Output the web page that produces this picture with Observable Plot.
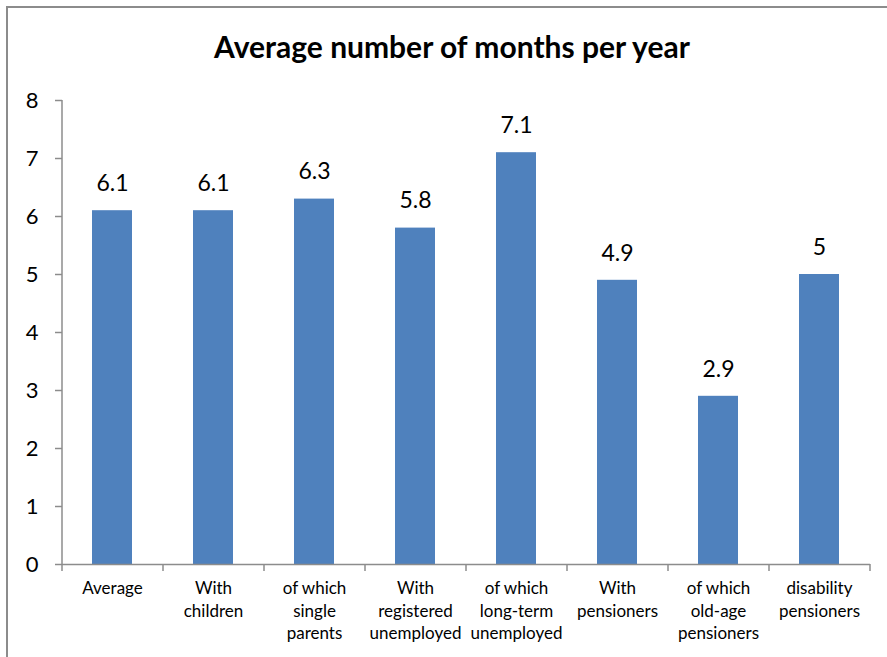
<!DOCTYPE html>
<html><head><meta charset="utf-8">
<script src="https://cdn.jsdelivr.net/npm/d3@7"></script>
<script src="https://cdn.jsdelivr.net/npm/@observablehq/plot@0.6"></script>
<style>
body{margin:0;background:#fff;}
#wrap{position:relative;width:887px;height:657px;overflow:hidden;font-family:Lato,"Open Sans",sans-serif;}
#frame{position:absolute;left:6px;top:6px;width:1000px;height:1000px;border-left:2px solid #8c8c8c;border-top:2px solid #8c8c8c;}
#title{position:absolute;left:0;top:28px;width:904px;text-align:center;font-weight:bold;font-size:30px;color:#000;}
#chart{position:absolute;left:0;top:0;}
</style></head><body>
<div id="wrap"><div id="frame"></div><div id="chart"></div><div id="title">Average number of months per year</div></div>
<script>
const categories = ["Average","With\nchildren","of which\nsingle\nparents","With\nregistered\nunemployed","of which\nlong-term\nunemployed","With\npensioners","of which\nold-age\npensioners","disability\npensioners"];
const values = [6.1,6.1,6.3,5.8,7.1,4.9,2.9,5];
const yTicks = [0,1,2,3,4,5,6,7,8];
const data = categories.map((c,i)=>({c, v: values[i]}));
const plot = Plot.plot({
  width: 887, height: 657,
  marginLeft: 62, marginRight: 17, marginTop: 100, marginBottom: 93,
  style: {fontFamily: "Lato, 'Open Sans', sans-serif", background: "transparent", color: "#000"},
  x: {domain: categories, paddingInner: 0.6, paddingOuter: 0.3, label: null},
  y: {domain: [0,8], label: null},
  marks: [
    Plot.barY(data, {x: "c", y: "v", fill: "#4F81BD"}),
    Plot.text(data, {x: "c", y: "v", text: d => String(d.v), dy: -27, fontSize: 23, fill: "#000"}),
    Plot.axisY({ticks: yTicks, tickSize: 7, tickPadding: 17, fontSize: 22, stroke: "#8c8c8c", strokeWidth: 1.5, label: null, color: "#000"}),
    Plot.axisX({tickSize: 0, tickPadding: 14, fontSize: 17, lineHeight: 1.32, label: null, textAnchor: "middle"}),
    Plot.ruleY([0], {stroke: "#8c8c8c", strokeWidth: 1.5})
  ]
});
document.getElementById("chart").appendChild(plot);
const xs = plot.scale("x"), ys = plot.scale("y");
const svg = d3.select(plot);
const x0 = xs.range[0], x1 = xs.range[1];
svg.append("line").attr("x1",x0).attr("x2",x0).attr("y1",ys.apply(8)).attr("y2",ys.apply(0)).attr("stroke","#8c8c8c").attr("stroke-width",1.5);
for (let i=0;i<=categories.length;i++){
  const x = x0 + i*(x1-x0)/categories.length;
  svg.append("line").attr("x1",x).attr("x2",x).attr("y1",ys.apply(0)).attr("y2",ys.apply(0)+7).attr("stroke","#8c8c8c").attr("stroke-width",1.5);
}
</script>
</body></html>
